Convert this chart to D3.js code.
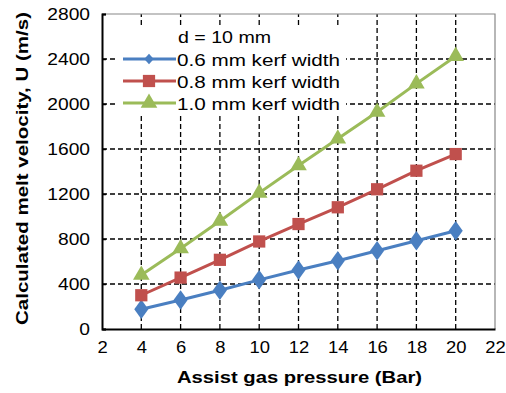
<!DOCTYPE html>
<html>
<head>
<meta charset="utf-8">
<script src="https://cdn.jsdelivr.net/npm/d3@7"></script>
<style>
	body { margin: 0; background: #fff; }
	svg { display: block; }
	text { font-family: Arial, "Liberation Sans", sans-serif; fill: #000; }
</style>
</head>
<body>
<svg id="chart" width="506" height="393"></svg>
<script>
// data
const pressure = [4, 6, 8, 10, 12, 14, 16, 18, 20];
const kerf06 = [175, 258, 345, 437, 525, 607, 696, 785, 874];
const kerf08 = [300, 457, 615, 778, 933, 1082, 1242, 1407, 1555];
const kerf10 = [480, 715, 960, 1210, 1453, 1691, 1929, 2181, 2425];
const seriesNames = ['0.6 mm kerf width', '0.8 mm kerf width', '1.0 mm kerf width'];
const xTicks = [2, 4, 6, 8, 10, 12, 14, 16, 18, 20, 22];
const yTicks = [0, 400, 800, 1200, 1600, 2000, 2400, 2800];

const series = [
	{name: seriesNames[0], values: kerf06, color: '#4a7fc1', marker: 'diamond'},
	{name: seriesNames[1], values: kerf08, color: '#c0504d', marker: 'square'},
	{name: seriesNames[2], values: kerf10, color: '#9bbb59', marker: 'triangle'}
];

const svg = d3.select('#chart');
const x = d3.scaleLinear().domain([2, 22]).range([102, 495]);
const y = d3.scaleLinear().domain([0, 2800]).range([329, 14]);

// stretch text horizontally, the picture is a bit wide
const stretch = (sel, k) => {
	sel.each(function() {
		let w = this.getComputedTextLength();
		d3.select(this).attr('textLength', w * k).attr('lengthAdjust', 'spacingAndGlyphs');
	});
}
const fitTo = (sel, w) => sel.attr('textLength', w).attr('lengthAdjust', 'spacingAndGlyphs');

// gridlines
svg.append('g')
	.selectAll('line')
	.data(yTicks.slice(1, -1))
	.enter()
	.append('line')
	.attr('x1', x(2)).attr('x2', x(22))
	.attr('y1', d => y(d)).attr('y2', d => y(d))
	.attr('stroke', '#000').attr('stroke-width', 1.3).attr('stroke-dasharray', '5,3');
svg.append('g')
	.selectAll('line')
	.data(xTicks.slice(1, -1))
	.enter()
	.append('line')
	.attr('x1', d => x(d)).attr('x2', d => x(d))
	.attr('y1', y(0)).attr('y2', y(2800))
	.attr('stroke', '#000').attr('stroke-width', 1.3).attr('stroke-dasharray', '5,3');

// frame top/right
svg.append('path')
	.attr('d', `M${x(2)},${y(2800)}H${x(22)}V${y(0)}`)
	.attr('fill', 'none').attr('stroke', '#888').attr('stroke-width', 1.2);

// legend box covers the grid
svg.append('rect')
	.attr('x', 116).attr('y', 28).attr('width', 230).attr('height', 85)
	.attr('fill', '#fff');

// axes
const xAxis = svg.append('g')
	.attr('transform', `translate(0,${y(0)})`)
	.call(d3.axisBottom(x).tickValues(xTicks).tickSize(0).tickPadding(10));
const yAxis = svg.append('g')
	.attr('transform', `translate(${x(2)},0)`)
	.call(d3.axisLeft(y).tickValues(yTicks).tickFormat(d3.format('d')).tickSize(-4).tickPadding(12));
for (let ax of [xAxis, yAxis]) {
	ax.select('.domain').attr('stroke', '#000').attr('stroke-width', 2);
	ax.selectAll('.tick line').attr('stroke', '#000').attr('stroke-width', 1.5);
	ax.selectAll('text').attr('font-size', 16).attr('font-family', 'Arial, "Liberation Sans", sans-serif');
}
xAxis.selectAll('text').attr('dy', '0.9em');
yAxis.selectAll('text').attr('dy', '0.36em');
stretch(xAxis.selectAll('text'), 1.15);
stretch(yAxis.selectAll('text'), 1.2);

// markers
const symbolFor = {
	diamond: d3.symbol().type(d3.symbolDiamond).size(110),
	square: d3.symbol().type(d3.symbolSquare).size(150),
	triangle: d3.symbol().type(d3.symbolTriangle).size(120)
};

const line = d3.line().x((d, i) => x(pressure[i])).y(d => y(d));
for (let s of series) {
	let g = svg.append('g');
	g.append('path')
		.attr('d', line(s.values))
		.attr('fill', 'none').attr('stroke', s.color).attr('stroke-width', 3);
	g.selectAll('path.pt')
		.data(s.values)
		.enter()
		.append('path')
		.attr('class', 'pt')
		.attr('transform', (d, i) => `translate(${x(pressure[i])},${y(d)})` + (s.marker == 'diamond' ? ' scale(1.25,1)' : ''))
		.attr('d', symbolFor[s.marker])
		.attr('fill', s.color);
}

// legend
const leg = svg.append('g');
leg.append('text')
	.attr('x', 178).attr('y', 43)
	.attr('font-size', 16)
	.text('d = 10 mm')
	.call(fitTo, 93);
series.forEach((s, i) => {
	let ly = 59 + i * 22;
	leg.append('line')
		.attr('x1', 123).attr('x2', 176).attr('y1', ly).attr('y2', ly)
		.attr('stroke', s.color).attr('stroke-width', 3);
	leg.append('path')
		.attr('transform', `translate(149,${ly})` + (s.marker == 'diamond' ? ' scale(1.25,0.8)' : ''))
		.attr('d', s.marker == 'diamond' ? d3.symbol().type(d3.symbolDiamond).size(50)() : symbolFor[s.marker]())
		.attr('fill', s.color);
	leg.append('text')
		.attr('x', 177).attr('y', ly + 6.5)
		.attr('font-size', 16)
		.text(s.name)
		.call(fitTo, 163);
});

// axis titles
svg.append('text')
	.attr('x', 177).attr('y', 383)
	.attr('font-size', 17).attr('font-weight', 'bold')
	.text('Assist gas pressure (Bar)')
	.call(fitTo, 245);
svg.append('text')
	.attr('transform', 'translate(28,325) rotate(-90)')
	.attr('font-size', 17).attr('font-weight', 'bold')
	.text('Calculated melt velocity, U (m/s)')
	.call(fitTo, 313);
</script>
</body>
</html>
